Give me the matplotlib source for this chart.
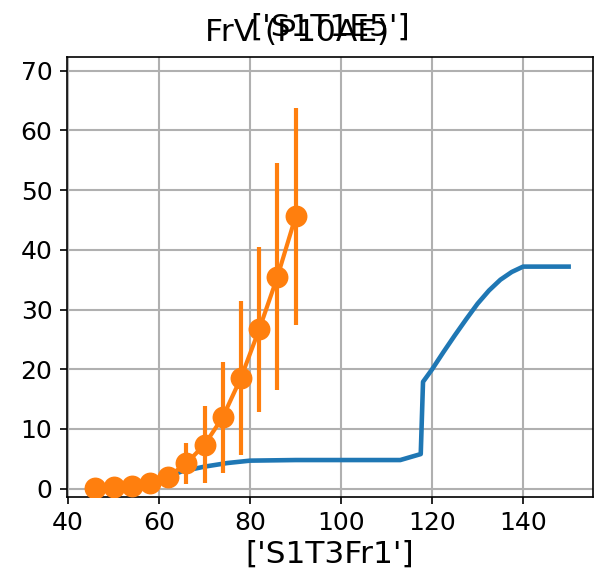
import matplotlib
matplotlib.use("Agg")
import matplotlib.pyplot as plt

# blue model curve
blue_x = [45, 50, 55, 60, 62.5, 65, 70, 75, 80, 90, 100, 110, 113, 117.5, 118,
          120, 122.5, 125, 127.5, 130, 132.5, 135, 137.5, 140, 145, 150]
blue_y = [0.1, 0.3, 0.6, 1.3, 2.2, 2.9, 3.7, 4.3, 4.7, 4.8, 4.8, 4.8, 4.8, 5.8, 17.9,
          20.0, 22.9, 25.7, 28.4, 31.0, 33.2, 35.0, 36.3, 37.2, 37.2, 37.2]

# orange measured points with error bars
obs_x = [46, 50, 54, 58, 62, 66, 70, 74, 78, 82, 86, 90]
obs_y = [0.07, 0.3, 0.45, 0.9, 2.0, 4.25, 7.4, 12.0, 18.6, 26.7, 35.5, 45.6]
obs_err = [0.05, 0.1, 0.2, 0.4, 1.0, 3.4, 6.4, 9.3, 12.9, 13.8, 19.0, 18.2]

title = "['S1T1E5']"
suptitle = "FrV (P10AE)"
xlabel = "['S1T3Fr1']"

fig = plt.figure(figsize=(594 / 150, 576 / 150), dpi=150)
ax = fig.add_axes([67 / 594, 1 - 496.7 / 576, (592.5 - 67) / 594, (496.7 - 57.3) / 576])

ax.plot(blue_x, blue_y, color="C0", lw=2.2, zorder=2)
ax.errorbar(obs_x, obs_y, yerr=obs_err, fmt="-o", color="C1", lw=2,
            markersize=9.5, elinewidth=2, zorder=3)

ax.set_ylim(-1.34, 72.26)
ax.set_yticks(range(0, 71, 10))
ax.set_xticks(range(40, 141, 20))
ax.grid(True, color="#b0b0b0", lw=1)
ax.set_axisbelow(True)
ax.tick_params(labelsize=12)
ax.set_xlabel(xlabel, fontsize=15, labelpad=2)

fig.text(329.75 / 594, 1 - 36 / 576, title, ha="center", va="baseline", fontsize=15)
fig.text(0.5, 1 - 41 / 576, suptitle, ha="center", va="baseline", fontsize=15)

fig.savefig("out.png", dpi=150)
